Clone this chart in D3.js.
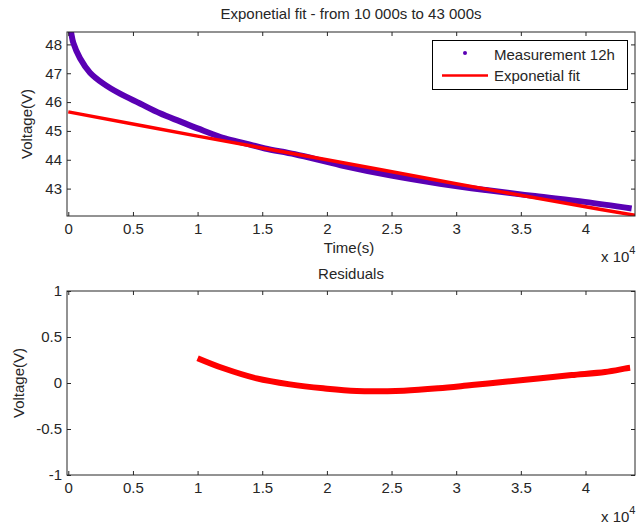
<!DOCTYPE html>
<html>
<head>
<meta charset="utf-8">
<script src="https://cdn.jsdelivr.net/npm/d3@7"></script>
<style>
  html, body { margin: 0; padding: 0; background: #fff; }
  svg { display: block; font-family: "Liberation Sans", Arial, sans-serif; }
  text { fill: #262626; }
</style>
</head>
<body>
<svg id="chart" width="636" height="526"></svg>
<script>
// ---- Data ----
const titleText = "Exponetial fit - from 10 000s to 43 000s";
const legendLabels = ["Measurement 12h", "Exponetial fit"];

const measTime = [0, 210, 390, 905, 1680, 2710, 4000, 5545, 7090, 8640, 10050, 12120, 13670, 15210, 17530, 21070, 24880, 28750, 32300, 36090, 39950, 43570];
const measVolt = [48.87, 48.43, 48.05, 47.52, 47.02, 46.64, 46.29, 45.95, 45.61, 45.33, 45.08, 44.74, 44.57, 44.39, 44.19, 43.81, 43.46, 43.17, 42.95, 42.74, 42.54, 42.31];

const fitTime = [0, 10000, 20000, 30000, 40000, 43900];
const fitVolt = [45.66, 44.82, 44.00, 43.17, 42.37, 42.07];

const resTime = [10000, 12000, 14570, 17150, 19720, 22300, 25950, 28620, 31200, 33770, 36350, 38930, 41510, 43190, 43450];
const resVal  = [0.27, 0.16, 0.05, -0.015, -0.058, -0.087, -0.083, -0.058, -0.022, 0.014, 0.05, 0.087, 0.12, 0.16, 0.165];

const xTicks = [0, 5000, 10000, 15000, 20000, 25000, 30000, 35000, 40000];
const xTickLabels = ["0", "0.5", "1", "1.5", "2", "2.5", "3", "3.5", "4"];
const yTicksTop = [43, 44, 45, 46, 47, 48];
const yTicksBottom = [-1, -0.5, 0, 0.5, 1];
const yTickLabelsBottom = ["-1", "-0.5", "0", "0.5", "1"];

// ---- Layout ----
const svg = d3.select("#chart");
const FS = 15;
const purple = "#5a00b4";
const red = "#ff0000";
const axisColor = "#262626";

const left = 67, right = 635;
const top1 = 32, bot1 = 216;
const top2 = 291, bot2 = 475;

const x = d3.scaleLinear().domain([-100, 43829]).range([left, right]);
const y1 = d3.scaleLinear().domain([42.05, 48.43]).range([bot1, top1]);
const y2 = d3.scaleLinear().domain([-1, 1]).range([bot2, top2]);

const defs = svg.append("defs");
defs.append("clipPath").attr("id", "clip1").append("rect")
  .attr("x", left).attr("y", top1).attr("width", right - left).attr("height", bot1 - top1);
defs.append("clipPath").attr("id", "clip2").append("rect")
  .attr("x", left).attr("y", top2).attr("width", right - left).attr("height", bot2 - top2);

function drawAxes(y, yTop, yBot, yTicks, yLabels) {
  const fmtX = (d) => xTickLabels[xTicks.indexOf(d)];
  const gB = svg.append("g").attr("transform", `translate(0,${yBot})`)
    .call(d3.axisBottom(x).tickValues(xTicks).tickFormat(fmtX).tickSize(-4).tickPadding(7).tickSizeOuter(0));
  const gT = svg.append("g").attr("transform", `translate(0,${yTop})`)
    .call(d3.axisTop(x).tickValues(xTicks).tickFormat("").tickSize(-4).tickSizeOuter(0));
  const gL = svg.append("g").attr("transform", `translate(${left},0)`)
    .call(d3.axisLeft(y).tickValues(yTicks).tickFormat((d, i) => yLabels ? yLabels[i] : d3.format("d")(d)).tickSize(-4).tickPadding(5).tickSizeOuter(0));
  const gR = svg.append("g").attr("transform", `translate(${right},0)`)
    .call(d3.axisRight(y).tickValues(yTicks).tickFormat("").tickSize(-4).tickSizeOuter(0));
  [gB, gT, gL, gR].forEach(g => {
    g.selectAll("path.domain").remove();
    g.selectAll("line").attr("stroke", axisColor);
    g.selectAll("text").attr("font-size", FS).attr("font-family", "Liberation Sans, Arial, sans-serif").attr("fill", axisColor);
  });
  svg.append("rect").attr("x", left).attr("y", yTop).attr("width", right - left).attr("height", yBot - yTop)
    .attr("fill", "none").attr("stroke", axisColor).attr("stroke-width", 1);
}

// ---- Top plot ----
const measData = measTime.map((t, i) => [t, measVolt[i]]);
const fitData = fitTime.map((t, i) => [t, fitVolt[i]]);
const resData = resTime.map((t, i) => [t, resVal[i]]);

const line1 = d3.line().x(d => x(d[0])).y(d => y1(d[1])).curve(d3.curveCatmullRom.alpha(0.5));
const line2 = d3.line().x(d => x(d[0])).y(d => y2(d[1])).curve(d3.curveCatmullRom.alpha(0.5));

const p1 = svg.append("g").attr("clip-path", "url(#clip1)");
p1.append("path").datum(measData).attr("d", line1)
  .attr("fill", "none").attr("stroke", purple).attr("stroke-width", 6).attr("stroke-linecap", "butt");
p1.append("path").datum(fitData).attr("d", line1)
  .attr("fill", "none").attr("stroke", red).attr("stroke-width", 3.5);

drawAxes(y1, top1, bot1, yTicksTop, null);

// ---- Bottom plot ----
const p2 = svg.append("g").attr("clip-path", "url(#clip2)");
p2.append("path").datum(resData).attr("d", line2)
  .attr("fill", "none").attr("stroke", red).attr("stroke-width", 6).attr("stroke-linecap", "butt");

drawAxes(y2, top2, bot2, yTicksBottom, yTickLabelsBottom);

// ---- Texts ----
svg.append("text").attr("x", 351).attr("y", 19).attr("text-anchor", "middle").attr("font-size", FS).text(titleText);
svg.append("text").attr("x", 349).attr("y", 253).attr("text-anchor", "middle").attr("font-size", FS).text("Time(s)");
svg.append("text").attr("x", 351).attr("y", 279).attr("text-anchor", "middle").attr("font-size", FS).text("Residuals");

function exponent(xPos, yBase) {
  const t = svg.append("text").attr("x", xPos).attr("y", yBase).attr("font-size", FS);
  t.append("tspan").text("x 10");
  t.append("tspan").attr("font-size", 11).attr("dy", -8).text("4");
}
exponent(601, 262);
exponent(601, 522);

svg.append("text").attr("transform", `translate(32,${(top1 + bot1) / 2}) rotate(-90)`)
  .attr("text-anchor", "middle").attr("font-size", FS).text("Voltage(V)");
svg.append("text").attr("transform", `translate(24,${(top2 + bot2) / 2}) rotate(-90)`)
  .attr("text-anchor", "middle").attr("font-size", FS).text("Voltage(V)");

// ---- Legend ----
const lg = svg.append("g");
lg.append("rect").attr("x", 432.5).attr("y", 40.5).attr("width", 195).attr("height", 49)
  .attr("fill", "#fff").attr("stroke", "#000").attr("stroke-width", 1);
lg.append("circle").attr("cx", 465).attr("cy", 53).attr("r", 2).attr("fill", purple);
lg.append("text").attr("x", 494).attr("y", 60).attr("font-size", FS).text(legendLabels[0]);
lg.append("line").attr("x1", 442).attr("x2", 488).attr("y1", 75.5).attr("y2", 75.5).attr("stroke", red).attr("stroke-width", 2.5);
lg.append("text").attr("x", 494).attr("y", 81).attr("font-size", FS).text(legendLabels[1]);
</script>
</body>
</html>
